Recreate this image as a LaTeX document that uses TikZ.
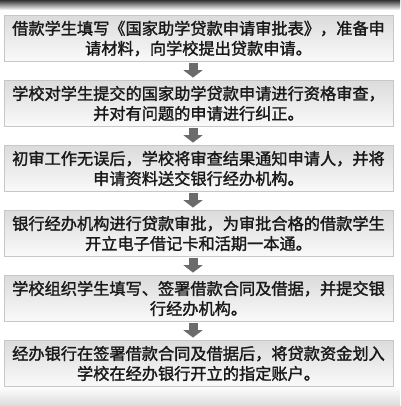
\documentclass[tikz,border=0pt]{standalone}
\usepackage{fontspec}
\newfontfamily\cjk[FakeBold=1.6]{Noto Sans CJK SC}
\usetikzlibrary{arrows.meta}
\begin{document}
\begin{tikzpicture}[x=1pt,y=-1pt,
  stepbox/.style={draw=black!22, line width=0.8pt, top color=black!14, bottom color=black!2,
    minimum width=389pt, minimum height=46pt, inner sep=0pt, align=center,
    font=\cjk\fontsize{16.2}{20}\selectfont, text=black!90},
  flowarrow/.style={draw=black!58, line width=9pt, -{Triangle[width=19pt,length=7.5pt]},
    shorten <=1.5pt, shorten >=2.5pt}]
\useasboundingbox (0,0) rectangle (400,406);
\fill[white] (0,0) rectangle (400,406);
\shade[top color=black!80, bottom color=white] (0,0) rectangle (400,10);
\shade[top color=white, bottom color=black!14] (0,386) rectangle (400,406);
\coordinate (ax) at (193,0);
\node[stepbox] (b1) at (198.5,38.5) {借款学生填写《国家助学贷款申请审批表》，准备申\\请材料，向学校提出贷款申请。};
\node[stepbox] (b2) at (198.5,103.5) {学校对学生提交的国家助学贷款申请进行资格审查，\\并对有问题的申请进行纠正。};
\node[stepbox] (b3) at (198.5,168.5) {初审工作无误后，学校将审查结果通知申请人，并将\\申请资料送交银行经办机构。};
\node[stepbox] (b4) at (198.5,233.5) {银行经办机构进行贷款审批，为审批合格的借款学生\\开立电子借记卡和活期一本通。};
\node[stepbox] (b5) at (198.5,298.5) {学校组织学生填写、签署借款合同及借据，并提交银\\行经办机构。};
\node[stepbox] (b6) at (198.5,363.5) {经办银行在签署借款合同及借据后，将贷款资金划入\\学校在经办银行开立的指定账户。};
\foreach \a/\b in {b1/b2,b2/b3,b3/b4,b4/b5,b5/b6}
  \draw[flowarrow] (\a.south -| ax) -- (\b.north -| ax);
\end{tikzpicture}
\end{document}
